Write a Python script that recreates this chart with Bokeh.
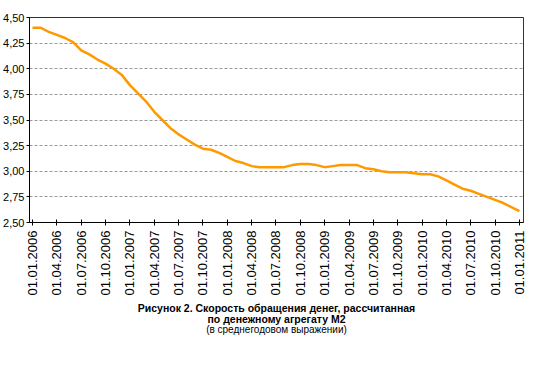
from math import pi
from bokeh.plotting import figure
from bokeh.models import FixedTicker, CustomJSTickFormatter, Title, Range1d
from bokeh.embed import file_html
from bokeh.resources import INLINE

# Months since 01.01.2006 (monthly observations)
months = list(range(61))
velocity = [4.40, 4.40, 4.36, 4.33, 4.30, 4.26, 4.18, 4.14, 4.09, 4.05,
            4.00, 3.94, 3.84, 3.76, 3.68, 3.58, 3.50, 3.42, 3.36, 3.31,
            3.26, 3.22, 3.21, 3.18, 3.14, 3.10, 3.08, 3.05, 3.04, 3.04,
            3.04, 3.04, 3.06, 3.07, 3.07, 3.06, 3.04, 3.05, 3.06, 3.06,
            3.06, 3.03, 3.02, 3.00, 2.99, 2.99, 2.99, 2.98, 2.97, 2.97,
            2.95, 2.91, 2.87, 2.83, 2.81, 2.78, 2.75, 2.72, 2.69, 2.65,
            2.61]

tick_months = list(range(0, 61, 3))
tick_labels = ["01.01.2006", "01.04.2006", "01.07.2006", "01.10.2006",
               "01.01.2007", "01.04.2007", "01.07.2007", "01.10.2007",
               "01.01.2008", "01.04.2008", "01.07.2008", "01.10.2008",
               "01.01.2009", "01.04.2009", "01.07.2009", "01.10.2009",
               "01.01.2010", "01.04.2010", "01.07.2010", "01.10.2010",
               "01.01.2011"]
y_ticks = [2.50, 2.75, 3.00, 3.25, 3.50, 3.75, 4.00, 4.25, 4.50]

title_lines = ["Рисунок 2. Скорость обращения денег, рассчитанная",
               "по денежному агрегату М2",
               "(в среднегодовом выражении)"]

p = figure(width=541, height=350, output_backend="svg", toolbar_location=None,
           x_range=Range1d(-0.37, 60.5), y_range=Range1d(2.5, 4.5),
           min_border_left=2, min_border_right=18, min_border_top=17,
           min_border_bottom=128)

p.line(months, velocity, line_color="#FF9900", line_width=2.5)

p.outline_line_color = "#333333"
p.outline_line_width = 1
p.background_fill_color = "white"
p.border_fill_color = "white"

# y axis
ya = p.yaxis[0]
ya.ticker = FixedTicker(ticks=y_ticks)
ya.formatter = CustomJSTickFormatter(code="return tick.toFixed(2).replace('.', ',');")
ya.major_label_text_font = "Liberation Sans"
ya.major_label_text_font_size = "11px"
ya.major_label_text_color = "black"
ya.major_tick_in = 0
ya.major_tick_out = 3
ya.minor_tick_line_color = None
ya.axis_line_color = "black"
ya.major_tick_line_color = "black"
ya.major_label_standoff = 2

# x axis
xa = p.xaxis[0]
xa.ticker = FixedTicker(ticks=tick_months)
xa.major_label_overrides = {m: lab for m, lab in zip(tick_months, tick_labels)}
xa.major_label_orientation = pi / 2
xa.major_label_text_font = "Liberation Sans"
xa.major_label_text_font_size = "13px"
xa.major_label_text_color = "black"
xa.major_tick_in = 3
xa.major_tick_out = 3
xa.minor_tick_line_color = None
xa.axis_line_color = "black"
xa.major_tick_line_color = "black"
xa.major_label_standoff = 5

p.xgrid.grid_line_color = None
p.ygrid.ticker = FixedTicker(ticks=y_ticks[1:-1])
p.ygrid.grid_line_color = "#999999"
p.ygrid.grid_line_dash = "3 2"
p.ygrid.grid_line_width = 1

styles = [("10.5px", "bold", 2), ("10.5px", "bold", -7), ("10px", "normal", 1)]
for text, (fs, st, so) in zip(title_lines, styles):
    p.add_layout(Title(text=text, align="center", text_font="Liberation Sans",
                       text_font_size=fs, text_font_style=st, text_color="black",
                       standoff=so), "below")

open("out.html", "w").write(file_html(p, INLINE))
